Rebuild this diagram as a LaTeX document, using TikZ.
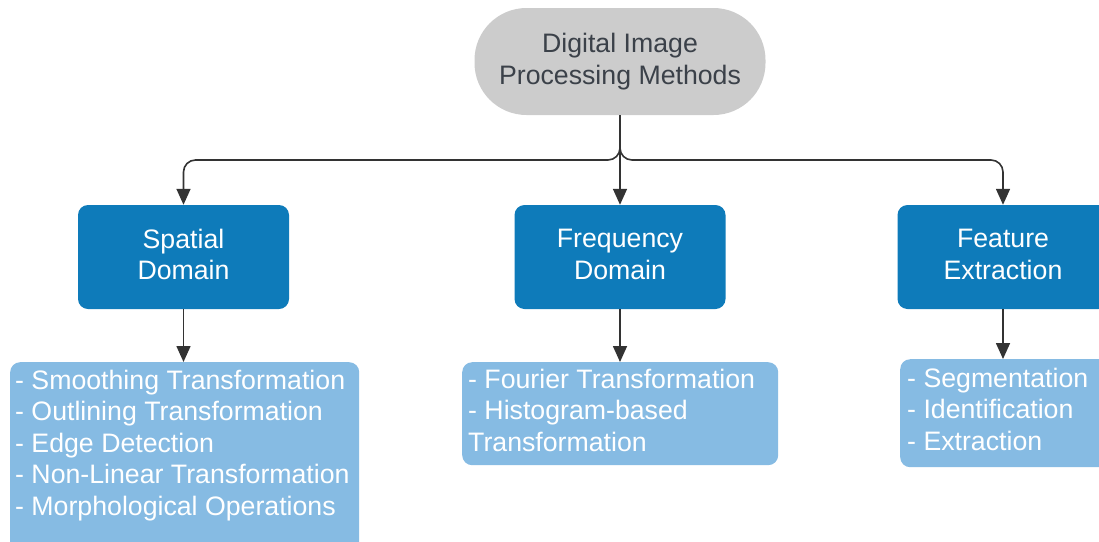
\documentclass[tikz,border=0pt]{standalone}
\usepackage{fontspec}
\setmainfont{Liberation Sans}
\usetikzlibrary{arrows.meta}

\definecolor{rootgrey}{HTML}{CCCCCC}
\definecolor{roottext}{HTML}{3B4149}
\definecolor{catblue}{HTML}{0E7BBA}
\definecolor{itemblue}{HTML}{86BBE3}
\definecolor{linegrey}{HTML}{333333}

\tikzset{
  labelfont/.style={font=\fontsize{26.7}{31.5}\selectfont},
  rootbox/.style={labelfont, fill=rootgrey, text=roottext, rounded corners=52pt,
    minimum width=291pt, minimum height=107pt, inner sep=0pt, align=center},
  catbox/.style={labelfont, fill=catblue, text=white, rounded corners=10pt,
    minimum width=211pt, minimum height=104pt, inner sep=0pt, align=center},
  itembox/.style={fill=itemblue, rounded corners=10pt, inner sep=0pt, anchor=north west},
  % anchored at the baseline of the last line
  itemtext/.style={labelfont, text=white, inner sep=0pt, align=left, anchor=base west},
  conn/.style={draw=linegrey, line width=1.6pt,
    -{Triangle[width=14pt,length=16pt]}, fill=none},
}

\begin{document}
\begin{tikzpicture}[x=1pt,y=-1pt]
  \useasboundingbox (0,0) rectangle (1099,541);
  \clip (0,0) rectangle (1099,541);

  % root
  \node[rootbox] (root) at (620,61.5) {Digital Image\\Processing Methods};

  % categories
  \node[catbox] (spatial) at (183.5,257) {Spatial\\Domain\vphantom{g}};
  \node[catbox] (freq)    at (620,257)   {Frequency\\Domain\vphantom{g}};
  \node[catbox] (feat)    at (1003,257)  {Feature\\Extraction\vphantom{g}};

  % item panels
  \node[itembox, minimum width=349pt, minimum height=200pt] (spatialbox) at (10,362) {};
  \node[itembox, minimum width=316pt, minimum height=103pt] (freqbox)    at (462,362) {};
  \node[itembox, minimum width=220pt, minimum height=108pt] (featbox)    at (900,359) {};

  \node[itemtext] (spatialtext) at (15,515)
    {- Smoothing Transformation\\- Outlining Transformation\\- Edge Detection\\- Non-Linear Transformation\\- Morphological Operations};
  \node[itemtext] (freqtext) at (468,451)
    {- Fourier Transformation\\- Histogram-based\\Transformation};
  \node[itemtext] (feattext) at (907,450)
    {- Segmentation\\- Identification\\- Extraction};

  % branching connectors
  \coordinate (hub) at (620,160);
  \draw[conn, rounded corners=12pt] (root.south) -- (hub) -| (spatial.north);
  \draw[conn, rounded corners=12pt] (root.south) -- (hub) -| (feat.north);
  \draw[conn] (root.south) -- (freq.north);

  \draw[conn] (spatial.south) -- (spatial.south |- spatialbox.north);
  \draw[conn] (freq.south) -- (freq.south |- freqbox.north);
  \draw[conn] (feat.south) -- (feat.south |- featbox.north);
\end{tikzpicture}
\end{document}
